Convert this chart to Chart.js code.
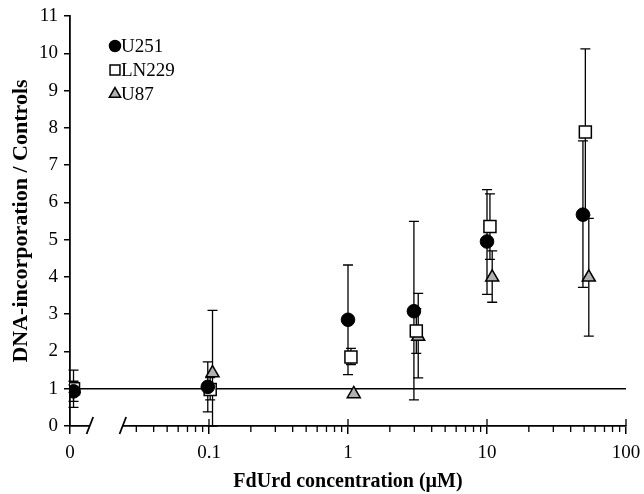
<!DOCTYPE html>
<html>
<head>
<meta charset="utf-8">
<script src="https://cdn.jsdelivr.net/npm/chart.js@4.4.1/dist/chart.umd.min.js"></script>
<style>
  html, body { margin: 0; padding: 0; background: #fff; }
  #wrap { width: 644px; height: 494px; }
</style>
</head>
<body>
<div id="wrap"><canvas id="myChart"></canvas></div>
<script>
// values; 0 is drawn at ZERO_AT on the broken log axis
const ZERO_AT = 0.0106;
const AXIS_MIN = 0.01;
const BREAK_FROM = 0.0139;
const BREAK_TO = 0.024;

const xTickValues = [0.01, 0.1, 1, 10, 100];
const xTickLabels = ['0', '0.1', '1', '10', '100'];

const u251X  = [0, 0.098, 1.0, 2.98, 10, 49];
const u251Y  = [0.93, 1.05, 2.85, 3.08, 4.95, 5.67];
const u251Hi = [1.2, 1.72, 4.32, 5.49, 6.34, 7.65];
const u251Lo = [0.66, 0.38, 1.38, 0.70, 3.53, 3.72];

const ln229X  = [0, 0.102, 1.05, 3.1, 10.5, 51];
const ln229Y  = [1.0, 0.98, 1.85, 2.55, 5.35, 7.89];
const ln229Hi = [1.5, 1.3, 2.08, 3.15, 6.23, 10.12];
const ln229Lo = [0.5, 0.7, 1.65, 1.95, 4.47, 5.66];

const u87X  = [0, 0.106, 1.1, 3.2, 10.9, 54];
const u87Y  = [1.0, 1.42, 0.86, 2.4, 3.99, 3.99];
const u87Hi = [1.1, 3.1, 0.86, 3.56, 4.7, 5.57];
const u87Lo = [0.9, 0, 0.86, 1.29, 3.32, 2.41];

const refX = [0.01, 100];
const refY = [1, 1];

const FONT = "'Liberation Serif', 'Times New Roman', serif";

function pts(xs, ys) {
  return xs.map((v, i) => ({ x: v === 0 ? ZERO_AT : v, y: ys[i] }));
}

const errorBars = {
  id: 'errorBars',
  beforeDatasetsDraw(chart) {
    const { ctx, scales: { x, y } } = chart;
    ctx.save();
    ctx.strokeStyle = '#000';
    ctx.lineWidth = 1.3;
    chart.data.datasets.forEach(ds => {
      if (!ds.hi) return;
      ds.data.forEach((p, j) => {
        const px = x.getPixelForValue(p.x);
        const t = y.getPixelForValue(ds.hi[j]);
        const b = y.getPixelForValue(ds.lo[j]);
        if (Math.abs(b - t) < 1) return;
        ctx.beginPath();
        ctx.moveTo(px, t); ctx.lineTo(px, b);
        ctx.moveTo(px - 5, t); ctx.lineTo(px + 5, t);
        ctx.moveTo(px - 5, b); ctx.lineTo(px + 5, b);
        ctx.stroke();
      });
    });
    ctx.restore();
  }
};

const axisExtras = {
  id: 'axisExtras',
  afterDraw(chart) {
    const { ctx, scales: { x } } = chart;
    const ay = chart.chartArea.bottom;
    ctx.save();
    ctx.strokeStyle = '#000';
    ctx.lineWidth = 1.3;
    // minor ticks
    ctx.beginPath();
    [0.01, 0.1, 1, 10].forEach(d => {
      for (let k = 2; k <= 9; k++) {
        const v = k * d;
        if (v > BREAK_FROM && v < BREAK_TO) continue;
        const px = x.getPixelForValue(v);
        ctx.moveTo(px, ay); ctx.lineTo(px, ay + 6);
      }
    });
    // major ticks go up through the axis too
    xTickValues.slice(1).forEach(v => {
      const px = x.getPixelForValue(v);
      ctx.moveTo(px, ay - 7); ctx.lineTo(px, ay);
    });
    ctx.stroke();
    // axis break
    const b1 = x.getPixelForValue(BREAK_FROM);
    const b2 = x.getPixelForValue(BREAK_TO);
    ctx.fillStyle = '#fff';
    ctx.fillRect(b1, ay - 3, b2 - b1, 6);
    ctx.lineWidth = 1.8;
    ctx.beginPath();
    [b1, b2].forEach(px => {
      ctx.moveTo(px - 3.3, ay + 8); ctx.lineTo(px + 3.3, ay - 9);
    });
    ctx.stroke();
    ctx.restore();
  }
};

const seriesIdx = [0, 1, 2];

const insideLegend = {
  id: 'insideLegend',
  afterDraw(chart) {
    const { ctx } = chart;
    ctx.save();
    ctx.font = '19px ' + FONT;
    ctx.textBaseline = 'middle';
    const rows = [46, 70, 94];
    seriesIdx.forEach((di, i) => {
      const ds = chart.data.datasets[di];
      const cy = rows[i];
      ctx.fillStyle = ds.backgroundColor;
      ctx.strokeStyle = '#000';
      ctx.lineWidth = 1.5;
      Chart.helpers.drawPoint(ctx, {
        pointStyle: ds.pointStyle, radius: ds.legendRadius, borderWidth: 1.5, rotation: 0
      }, 115, cy);
      ctx.fillStyle = '#000';
      ctx.fillText(ds.label, 121, cy + 1);
    });
    ctx.restore();
  }
};

new Chart(document.getElementById('myChart'), {
  type: 'scatter',
  data: {
    datasets: [
      {
        label: 'U251', data: pts(u251X, u251Y), hi: u251Hi, lo: u251Lo,
        pointStyle: 'circle', pointRadius: 6.8, legendRadius: 5.5,
        backgroundColor: '#000', borderColor: '#000', borderWidth: 1
      },
      {
        label: 'LN229', data: pts(ln229X, ln229Y), hi: ln229Hi, lo: ln229Lo,
        pointStyle: 'rect', pointRadius: 8.5, legendRadius: 7,
        backgroundColor: '#fff', borderColor: '#000', borderWidth: 1.5
      },
      {
        label: 'U87', data: pts(u87X, u87Y), hi: u87Hi, lo: u87Lo,
        pointStyle: 'triangle', pointRadius: 7.5, legendRadius: 6.5,
        backgroundColor: '#b0b0b0', borderColor: '#000', borderWidth: 1.5
      },
      {
        label: 'ref', data: pts(refX, refY), showLine: true, pointRadius: 0,
        borderColor: '#000', borderWidth: 1.5
      }
    ]
  },
  options: {
    responsive: true,
    maintainAspectRatio: false,
    animation: false,
    layout: { padding: { top: 16, right: 18, left: 0, bottom: 0 } },
    plugins: { legend: { display: false }, tooltip: { enabled: false } },
    scales: {
      x: {
        type: 'logarithmic',
        min: AXIS_MIN,
        max: 100,
        afterBuildTicks: s => { s.ticks = xTickValues.map(v => ({ value: v, major: true })); },
        afterFit: s => { s.height = 68; s.paddingLeft = 0; s.paddingRight = 0; },
        ticks: {
          callback: (v, i) => xTickLabels[i],
          autoSkip: false, maxRotation: 0, padding: 8,
          color: '#000', font: { family: FONT, size: 19 }
        },
        grid: { display: true, drawOnChartArea: false, drawTicks: true, tickLength: 8, color: '#000', lineWidth: 1.5 },
        border: { display: true, color: '#000', width: 1.8 },
        title: {
          display: true, text: 'FdUrd concentration (µM)', color: '#000',
          font: { family: FONT, size: 20, weight: 'bold' }, padding: { top: 0, bottom: 0 }
        }
      },
      y: {
        min: 0,
        max: 11,
        afterFit: s => { s.width = 70; s.paddingTop = 0; s.paddingBottom = 0; },
        ticks: { stepSize: 1, padding: 6, color: '#000', font: { family: FONT, size: 19 } },
        grid: { display: true, drawOnChartArea: false, drawTicks: true, tickLength: 6, color: '#000', lineWidth: 1.5 },
        border: { display: true, color: '#000', width: 1.8 },
        title: {
          display: true, text: 'DNA-incorporation / Controls', color: '#000',
          font: { family: FONT, size: 22, weight: 'bold' }, padding: { top: 8, bottom: 0 }
        }
      }
    }
  },
  plugins: [errorBars, axisExtras, insideLegend]
});
</script>
</body>
</html>
